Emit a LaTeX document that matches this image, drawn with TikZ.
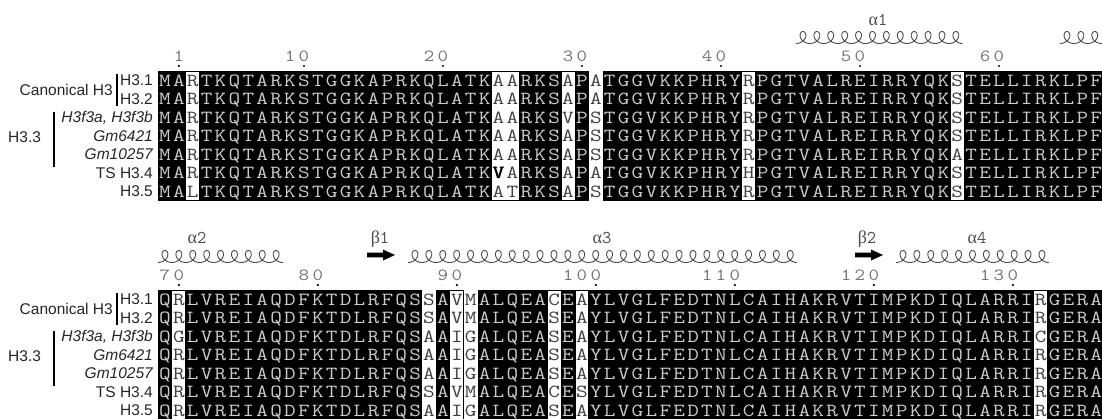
\documentclass[tikz,border=0pt]{standalone}
\usepackage{fontspec}
\newfontfamily\labfont{Liberation Sans}
\newfontfamily\grkfont{Liberation Serif}
\makeatletter
\newcommand\setwhite[2]{\expandafter\def\csname wc@#1@#2\endcsname{}}
\newcommand\bv{\color{black}\rlap{V}\hspace{0.6pt}V}
\newcommand\putseq[4]{%
  \def\ps@j{0}%
  \@tfor\ps@c:=#4\do{%
    \ifcsname wc@#1@\ps@j\endcsname\def\ps@col{black!75}\else\def\ps@col{white!80!black}\fi
    \node[seqchar,text=\ps@col] (b#1r#2c\ps@j) at ({158+13.9*(\ps@j+0.5)},{#3+18.5*(#2+0.5)+5.8}) {\scalebox{1.22}[1]{\ps@c}};
    \pgfmathtruncatemacro\ps@j{\ps@j+1}%
  }}
\newcommand\numlab[4]{%
  \def\nl@n{0}%
  \@tfor\nl@c:=#4\do{\pgfmathtruncatemacro\nl@n{\nl@n+1}}%
  \pgfmathtruncatemacro\nl@j{#3-\nl@n+1}%
  \@tfor\nl@c:=#4\do{%
    \node[numchar] (n#1c\nl@j) at ({158+13.9*(\nl@j+0.5)},{#2-10}) {\scalebox{1.2}[1]{\nl@c}};
    \pgfmathtruncatemacro\nl@j{\nl@j+1}}%
  \fill[black] ({158+13.9*(#3+0.5)},{#2-5}) circle (1.2);}
\newcommand\coil[3]{%
  \pgfmathtruncatemacro\co@s{#3*30+1}%
  \draw[coilline] plot[smooth,domain=0:#3,samples=\co@s] ({#1+13.9*\x+6*sin(360*\x)},{#2-6*(1-cos(360*\x))});}
\makeatother
\newcommand\wcol[3]{\fill[white] ({158+13.9*#2},#1) rectangle ({158+13.9*(#3+1)},{#1+129.5});}
\newcommand\fcol[3]{\fill[white] ({158+13.9*#2},#1) rectangle ({158+13.9*(#3+1)},{#1+129.5});
  \draw[framel] ({158+13.9*#2},#1) rectangle ({158+13.9*(#3+1)},{#1+129.5});}
\newcommand\sarrow[2]{\fill[black] (#1,{#2-2.3}) -- ({#1+16},{#2-2.3}) -- ({#1+16},{#2-5.5}) -- ({#1+28},#2) -- ({#1+16},{#2+5.5}) -- ({#1+16},{#2+2.3}) -- (#1,{#2+2.3}) -- cycle;}
\newcommand\leftlabels[2]{%
  \node[lab,anchor=base east] (b#1can) at (113,{#2+18.5+5.5}) {Canonical H3};
  \draw[bar] (117,{#2+3}) -- (117,{#2+35});
  \node[lab,anchor=base west] (b#1h33) at (8,{#2+3.5*18.5+6.5}) {H3.3};
  \draw[bar] (54,{#2+41}) -- (54,{#2+96});
  \node[lab,anchor=base east] (b#1l0) at (153,{#2+0.5*18.5+5.5}) {H3.1};
  \node[lab,anchor=base east] (b#1l1) at (153,{#2+1.5*18.5+5.5}) {H3.2};
  \node[lab,anchor=base east] (b#1l2) at (153,{#2+2.5*18.5+5.5}) {\itshape H3f3a, H3f3b};
  \node[lab,anchor=base east] (b#1l3) at (153,{#2+3.5*18.5+5.5}) {\itshape Gm6421};
  \node[lab,anchor=base east] (b#1l4) at (153,{#2+4.5*18.5+5.5}) {\itshape Gm10257};
  \node[lab,anchor=base east] (b#1l5) at (153,{#2+5.5*18.5+5.5}) {TS H3.4};
  \node[lab,anchor=base east] (b#1l6) at (153,{#2+6.5*18.5+5.5}) {H3.5};}
\setwhite{1}{2}\setwhite{1}{24}\setwhite{1}{25}\setwhite{1}{29}\setwhite{1}{31}\setwhite{1}{42}\setwhite{1}{57}
\setwhite{2}{1}\setwhite{2}{19}\setwhite{2}{21}\setwhite{2}{22}\setwhite{2}{28}\setwhite{2}{30}\setwhite{2}{63}
\tikzset{
  seqchar/.style={anchor=base,inner sep=0pt,font=\ttfamily\fontsize{18.5}{18.5}\selectfont},
  numchar/.style={anchor=base,inner sep=0pt,text=black!55,font=\ttfamily\fontsize{17}{17}\selectfont},
  lab/.style={inner sep=0pt,text=black!85,font=\labfont\fontsize{15.5}{15.5}\selectfont},
  sslab/.style={anchor=base,inner sep=0pt,text=black!70,font=\fontsize{18}{18}\selectfont},
  coilline/.style={draw=black!70,line width=0.9pt},
  framel/.style={draw=black,line width=0.9pt},
  bar/.style={draw=black,line width=1.6pt}
}
\begin{document}
\begin{tikzpicture}[x=1pt,y=-1pt]
\useasboundingbox (0,0) rectangle (1102,418);
\clip (0,0) rectangle (1102,418);
% ---------- block 1 ----------
\fill[black] (158,71) rectangle (1112,200.5);
\fcol{71}{2}{2}
\fcol{71}{24}{25}
\fcol{71}{29}{29}
\wcol{71}{31}{31}
\fcol{71}{42}{42}
\fcol{71}{57}{57}
\putseq{1}{0}{71}{MARTKQTARKSTGGKAPRKQLATKAARKSAPATGGVKKPHRYRPGTVALREIRRYQKSTELLIRKLPF}
\putseq{1}{1}{71}{MARTKQTARKSTGGKAPRKQLATKAARKSAPATGGVKKPHRYRPGTVALREIRRYQKSTELLIRKLPF}
\putseq{1}{2}{71}{MARTKQTARKSTGGKAPRKQLATKAARKSVPSTGGVKKPHRYRPGTVALREIRRYQKSTELLIRKLPF}
\putseq{1}{3}{71}{MARTKQTARKSTGGKAPRKQLATKAARKSAPSTGGVKKPHRYRPGTVALREIRRYQKSTELLIRKLPF}
\putseq{1}{4}{71}{MARTKQTARKSTGGKAPRKQLATKAARKSAPSTGGVKKPHRYRPGTVALREIRRYQKATELLIRKLPF}
\putseq{1}{5}{71}{MARTKQTARKSTGGKAPRKQLATK\bv ARKSAPATGGVKKPHRYHPGTVALREIRRYQKSTELLIRKLPF}
\putseq{1}{6}{71}{MALTKQTARKSTGGKAPRKQLATKATRKSAPSTGGVKKPHRYRPGTVALREIRRYQKSTELLIRKLPF}
\numlab{1}{71}{1}{1}
\numlab{1}{71}{10}{10}
\numlab{1}{71}{20}{20}
\numlab{1}{71}{30}{30}
\numlab{1}{71}{40}{40}
\numlab{1}{71}{50}{50}
\numlab{1}{71}{60}{60}
\coil{796}{43.5}{12}
\coil{1060}{43.5}{4}
\node[sslab] (a1) at (878,25) {{\grkfont α}\ttfamily 1};
\leftlabels{1}{71}
% ---------- block 2 ----------
\fill[black] (158,290) rectangle (1112,420);
\fcol{290}{1}{1}
\wcol{290}{19}{19}
\fcol{290}{21}{21}
\wcol{290}{22}{22}
\fcol{290}{28}{28}
\fcol{290}{30}{30}
\fcol{290}{63}{63}
\putseq{2}{0}{290}{QRLVREIAQDFKTDLRFQSSAVMALQEACEAYLVGLFEDTNLCAIHAKRVTIMPKDIQLARRIRGERA}
\putseq{2}{1}{290}{QRLVREIAQDFKTDLRFQSSAVMALQEASEAYLVGLFEDTNLCAIHAKRVTIMPKDIQLARRIRGERA}
\putseq{2}{2}{290}{QGLVREIAQDFKTDLRFQSAAIGALQEASEAYLVGLFEDTNLCAIHAKRVTIMPKDIQLARRICGERA}
\putseq{2}{3}{290}{QRLVREIAQDFKTDLRFQSAAIGALQEASEAYLVGLFEDTNLCAIHAKRVTIMPKDIQLARRIRGERA}
\putseq{2}{4}{290}{QRLVREIAQDFKTDLRFQSAAIGALQEASEAYLVGLFEDTNLCAIHAKRVTIMPKDIQLARRIRGERA}
\putseq{2}{5}{290}{QRLVREIAQDFKTDLRFQSSAVMALQEACESYLVGLFEDTNLCAIHAKRVTIMPKDIQLARRIRGERA}
\putseq{2}{6}{290}{QRLVREIAQDFKTDLRFQSAAIGALQEASEAYLVGLFEDTNLCAIHAKRVTIMPKDIQLARRIRGERA}
\numlab{2}{290}{1}{70}
\numlab{2}{290}{11}{80}
\numlab{2}{290}{21}{90}
\numlab{2}{290}{31}{100}
\numlab{2}{290}{41}{110}
\numlab{2}{290}{51}{120}
\numlab{2}{290}{61}{130}
\coil{158}{262.5}{9}
\coil{408}{262.5}{28}
\coil{896}{262.5}{11}
\sarrow{367}{255}
\sarrow{855}{255}
\node[sslab] (a2) at (197,243) {{\grkfont α}\ttfamily 2};
\node[sslab] (bt1) at (380,243) {{\grkfont β}\ttfamily 1};
\node[sslab] (a3) at (602,243) {{\grkfont α}\ttfamily 3};
\node[sslab] (bt2) at (867,243) {{\grkfont β}\ttfamily 2};
\node[sslab] (a4) at (977,243) {{\grkfont α}\ttfamily 4};
\leftlabels{2}{290}
\end{tikzpicture}
\end{document}
